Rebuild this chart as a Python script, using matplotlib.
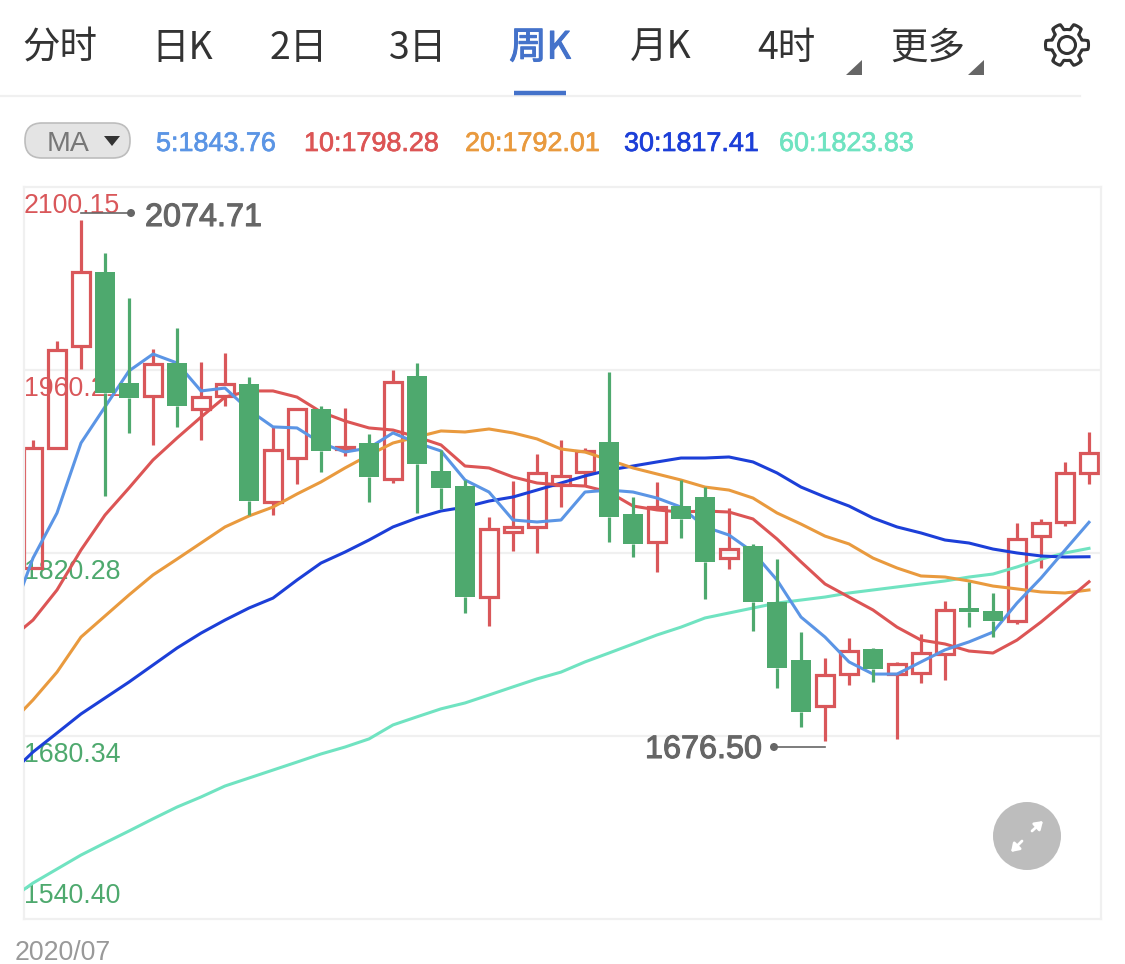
import numpy as np
import matplotlib
matplotlib.use("Agg")
import matplotlib.pyplot as plt
import matplotlib.patheffects as pe
from matplotlib.patches import FancyBboxPatch, Polygon, Circle

tabs = ['分时', '日K', '2日', '3日', '周K', '月K', '4时', '更多']
active_tab = '周K'
ma_periods = [5, 10, 20, 30, 60]
ma_labels = ['5:1843.76', '10:1798.28', '20:1792.01', '30:1817.41', '60:1823.83']
tick_values = [2100.15, 1960.21, 1820.28, 1680.34, 1540.40]
tick_labels = ['2100.15', '1960.21', '1820.28', '1680.34', '1540.40']
date_label = '2020/07'
high_label = '2074.71'
low_label = '1676.50'

opens = [1808.8, 1900.6, 1978.5, 2035.2, 1950.2, 1940.3, 1965.6, 1930.4, 1940.3, 1949.5,
         1859.3, 1892.9, 1930.4, 1899.8, 1904.4, 1876.9, 1955.6, 1883.0, 1871.5, 1786.6,
         1836.3, 1840.2, 1872.3, 1882.2, 1905.1, 1850.1, 1828.7, 1856.2, 1863.2, 1816.4,
         1825.7, 1782.8, 1738.4, 1703.3, 1727.7, 1746.9, 1727.7, 1728.5, 1743.0, 1778.2,
         1775.9, 1768.3, 1833.2, 1844.0, 1881.5]
closes = [1900.6, 1975.5, 2035.2, 1942.6, 1938.8, 1964.8, 1932.7, 1939.5, 1949.5, 1860.0,
          1899.1, 1930.4, 1898.4, 1901.4, 1878.4, 1951.0, 1888.3, 1870.0, 1786.6, 1838.6,
          1840.2, 1881.5, 1879.3, 1898.4, 1847.8, 1827.2, 1855.4, 1846.3, 1813.5, 1823.6,
          1782.8, 1732.4, 1698.7, 1726.9, 1745.3, 1731.6, 1735.5, 1743.8, 1776.7, 1775.1,
          1768.3, 1831.0, 1843.2, 1881.5, 1896.9]
highs = [1906.7, 1982.3, 2074.71, 2049.7, 2015.3, 1976.2, 1992.3, 1966.3, 1973.2, 1954.8,
         1916.7, 1930.4, 1932.7, 1931.2, 1911.3, 1960.2, 1965.6, 1899.1, 1876.1, 1847.8,
         1875.3, 1896.0, 1906.7, 1900.6, 1958.6, 1863.2, 1874.6, 1876.1, 1870.7, 1854.7,
         1827.2, 1815.6, 1759.8, 1739.9, 1755.2, 1747.6, 1737.0, 1758.3, 1783.5, 1798.1,
         1789.7, 1843.2, 1846.3, 1890.0, 1912.8]
lows = [1808.8, 1899.8, 1960.9, 1863.9, 1912.1, 1902.9, 1916.7, 1906.7, 1932.7, 1849.3,
        1849.3, 1873.0, 1882.2, 1894.5, 1859.3, 1873.8, 1850.9, 1853.9, 1774.4, 1764.4,
        1821.8, 1820.3, 1855.4, 1871.5, 1828.7, 1817.2, 1805.9, 1831.7, 1785.1, 1807.9,
        1760.6, 1717.1, 1687.2, 1676.5, 1719.4, 1721.6, 1678.1, 1720.9, 1723.1, 1763.6,
        1756.0, 1766.0, 1808.8, 1841.0, 1873.0]

# Moving averages: the first value belongs to the bar just left of the visible range
ma5 = [1766.7, 1816.4, 1850.9, 1904.4, 1932.0, 1959.5, 1972.4, 1965.6, 1944.2, 1946.4,
       1929.6, 1916.7, 1915.9, 1904.4, 1897.5, 1900.6, 1912.1, 1904.4, 1898.3, 1876.1,
       1866.9, 1845.5, 1844.0, 1845.5, 1866.9, 1868.4, 1866.9, 1862.3, 1855.4, 1840.2,
       1834.0, 1821.0, 1799.6, 1771.3, 1756.0, 1737.0, 1727.7, 1727.7, 1737.0, 1746.2,
       1752.3, 1759.8, 1782.0, 1801.1, 1822.5, 1843.76]
ma10 = [1753.7, 1769.0, 1792.0, 1822.6, 1849.3, 1870.0, 1891.4, 1908.2, 1924.2, 1939.5,
        1944.2, 1944.2, 1939.5, 1928.1, 1921.2, 1915.9, 1914.3, 1909.0, 1902.9, 1886.8,
        1885.3, 1878.4, 1873.8, 1872.3, 1871.5, 1866.9, 1856.2, 1853.2, 1851.6, 1852.4,
        1851.6, 1846.3, 1831.0, 1813.5, 1796.6, 1786.6, 1776.7, 1763.6, 1753.7, 1750.7,
        1745.3, 1743.8, 1753.7, 1767.5, 1782.8, 1798.28]
ma20 = [1688.8, 1707.9, 1729.2, 1756.0, 1772.1, 1788.2, 1803.5, 1815.6, 1827.9, 1840.2,
        1848.6, 1855.4, 1865.4, 1874.6, 1885.3, 1895.2, 1904.4, 1909.0, 1913.6, 1912.8,
        1915.1, 1912.1, 1907.5, 1899.8, 1897.5, 1891.4, 1885.3, 1880.7, 1876.1, 1870.7,
        1868.4, 1862.3, 1850.9, 1842.4, 1833.2, 1827.2, 1816.4, 1808.8, 1802.7, 1801.9,
        1798.9, 1795.0, 1792.8, 1790.5, 1789.7, 1792.01]
ma30 = [1650.5, 1668.1, 1682.6, 1697.2, 1709.4, 1721.6, 1734.6, 1747.6, 1759.0, 1769.0,
        1778.2, 1785.8, 1799.6, 1812.6, 1821.0, 1830.2, 1840.2, 1847.0, 1852.4, 1855.4,
        1860.0, 1863.1, 1868.4, 1873.8, 1879.2, 1883.7, 1886.8, 1889.9, 1892.9, 1892.9,
        1893.7, 1889.9, 1881.5, 1870.7, 1863.1, 1856.2, 1847.0, 1840.2, 1835.6, 1830.2,
        1827.9, 1823.3, 1820.3, 1818.0, 1817.2, 1817.41]
ma60 = [1554.9, 1567.9, 1578.6, 1589.3, 1598.6, 1607.7, 1617.0, 1626.0, 1633.7, 1642.1,
        1648.2, 1654.3, 1660.4, 1666.6, 1671.9, 1678.1, 1688.8, 1695.0, 1701.1, 1705.6,
        1711.7, 1717.9, 1724.0, 1729.2, 1737.0, 1743.8, 1750.7, 1757.6, 1763.6, 1770.6,
        1774.4, 1778.2, 1782.0, 1784.3, 1786.6, 1789.7, 1792.0, 1794.3, 1796.6, 1798.9,
        1801.9, 1804.2, 1809.6, 1815.6, 1820.3, 1823.83]

UP = '#D9575A'
DOWN = '#4EA96E'
MA_COLORS = ['#5B95E5', '#DC5555', '#E99A3E', '#1C3FD8', '#70E3C1']
GRID = '#F0F0F0'
LATIN = ['Liberation Sans', 'DejaVu Sans']
CJK = ['Noto Sans CJK SC', 'DejaVu Sans']


def thicken(col, w=0.5):
    return [pe.withStroke(linewidth=w, foreground=col)]


W, H = 1125, 964
fig = plt.figure(figsize=(W / 100, H / 100), dpi=100, facecolor='white')

# ---- price chart ----
L, R, T, B = 24, 1101, 187, 919
ax = fig.add_axes([L / W, 1 - B / H, (R - L) / W, (B - T) / H])
ax.patch.set_alpha(0)
ax.set_xlim(-0.375, 44.5)
ax.set_ylim(1540.40, 2100.15)
ax.set_xticks([])
ax.set_yticks(tick_values[1:-1])
ax.tick_params(left=False, labelleft=False)
ax.grid(True, axis='y', color=GRID, lw=1.6, zorder=0)
for s in ax.spines.values():
    s.set_color(GRID)
    s.set_linewidth(1.6)

for value, label in zip(tick_values, tick_labels):
    col = UP if value > 1900 else DOWN
    off = 23 if value == tick_values[-1] else -19
    ax.annotate(label, xy=(0, value), xycoords=('axes fraction', 'data'),
                xytext=(0, off), textcoords='offset pixels', va='center', ha='left',
                fontsize=19.3, color=col, family=LATIN, zorder=1, annotation_clip=False)

xs = np.arange(len(opens))
for x, o, h, l, c in zip(xs, opens, highs, lows, closes):
    rising = c >= o
    col = UP if rising else DOWN
    z = 2 if rising else 4
    top, bot = max(o, c), min(o, c)
    ax.vlines(x, top, h, color=col, lw=2.3, zorder=z)
    ax.vlines(x, l, bot, color=col, lw=2.3, zorder=z)
    if rising:
        ax.bar(x, top - bot, bottom=bot, width=0.74, facecolor='none', edgecolor=col,
               linewidth=2.3, zorder=z)
    else:
        ax.bar(x, top - bot, bottom=bot, width=0.87, facecolor=col, edgecolor='none', zorder=z)

line_x = np.arange(-1, len(opens))
for series, col in zip([ma60, ma30, ma20, ma10, ma5], MA_COLORS[::-1]):
    ax.plot(line_x, series, color=col, lw=2.2, zorder=3, solid_joinstyle='round')

# ---- page furniture, in pixel coordinates ----
ui = fig.add_axes([0, 0, 1, 1], zorder=5)
ui.set_xlim(0, W)
ui.set_ylim(H, 0)
ui.axis('off')
ui.patch.set_alpha(0)

tab_x = [60, 182, 299, 418, 540, 661, 786, 928]
for t, x in zip(tabs, tab_x):
    on = t == active_tab
    col = '#4472CA' if on else '#333333'
    txt = ui.text(x, 48, t, ha='center', va='center', fontsize=27, family=CJK, color=col)
    if on:
        txt.set_path_effects(thicken(col, 0.8))
for x0 in (846, 968):
    ui.add_patch(Polygon([(x0, 75), (x0 + 16, 75), (x0 + 16, 60)], closed=True,
                         facecolor='#666666', edgecolor='none'))
ui.plot([0, 1080], [96, 96], color=GRID, lw=1.6)
ui.plot([514, 566], [93, 93], color='#4472CA', lw=3.2, solid_capstyle='butt')

# gear icon
cx, cy = 1067, 45
ang = np.linspace(0, 2 * np.pi, 121)
rad = 18.5 + 3.0 * np.clip(3.0 * np.cos(6 * (ang + np.pi / 6)), -1, 1)
ui.plot(cx + rad * np.sin(ang), cy + rad * np.cos(ang), color='#333333', lw=2.2)
ui.add_patch(Circle((cx, cy), 8.5, facecolor='none', edgecolor='#333333', lw=2.2))

# MA selector and legend
ui.add_patch(FancyBboxPatch((25, 123), 105, 35, boxstyle='round,pad=0,rounding_size=17',
                            facecolor='#E4E4E4', edgecolor='#BDBDBD', linewidth=1.2))
ui.text(68, 144, 'MA', ha='center', va='center', fontsize=20.5, color='#777777', family=LATIN)
ui.add_patch(Polygon([(104, 136), (120, 136), (112, 146)], closed=True, facecolor='#333333', edgecolor='none'))
legend_x = [156, 304, 465, 624, 779]
for label, x, col in zip(ma_labels, legend_x, MA_COLORS):
    ui.text(x, 144, label, ha='left', va='center', fontsize=19.4, color=col, family=LATIN,
            path_effects=thicken(col))

# high / low callouts
ui.plot([81, 131], [213, 213], color='#666666', lw=1.2)
ui.add_patch(Circle((131, 213), 4, facecolor='#666666', edgecolor='none'))
ui.text(145, 218, high_label, ha='left', va='center', fontsize=23.3, color='#666666', family=LATIN,
        path_effects=thicken('#666666', 0.8))
ui.plot([825, 774], [747, 747], color='#666666', lw=1.2)
ui.add_patch(Circle((774, 747), 4, facecolor='#666666', edgecolor='none'))
ui.text(762, 750, low_label, ha='right', va='center', fontsize=23.3, color='#666666', family=LATIN,
        path_effects=thicken('#666666', 0.8))

# expand button
ui.add_patch(Circle((1027, 836), 34, facecolor='#BDBDBD', edgecolor='none'))
arrow = dict(arrowstyle='-|>,head_length=0.45,head_width=0.3', color='white', lw=2, shrinkA=0, shrinkB=0)
ui.annotate('', xy=(1043, 821), xytext=(1032, 831), arrowprops=arrow)
ui.annotate('', xy=(1011, 852), xytext=(1022, 841), arrowprops=arrow)

ui.text(15, 953, date_label, ha='left', va='center', fontsize=19.3, color='#999999', family=LATIN)

fig.savefig('out.png', dpi=100, facecolor='white')
